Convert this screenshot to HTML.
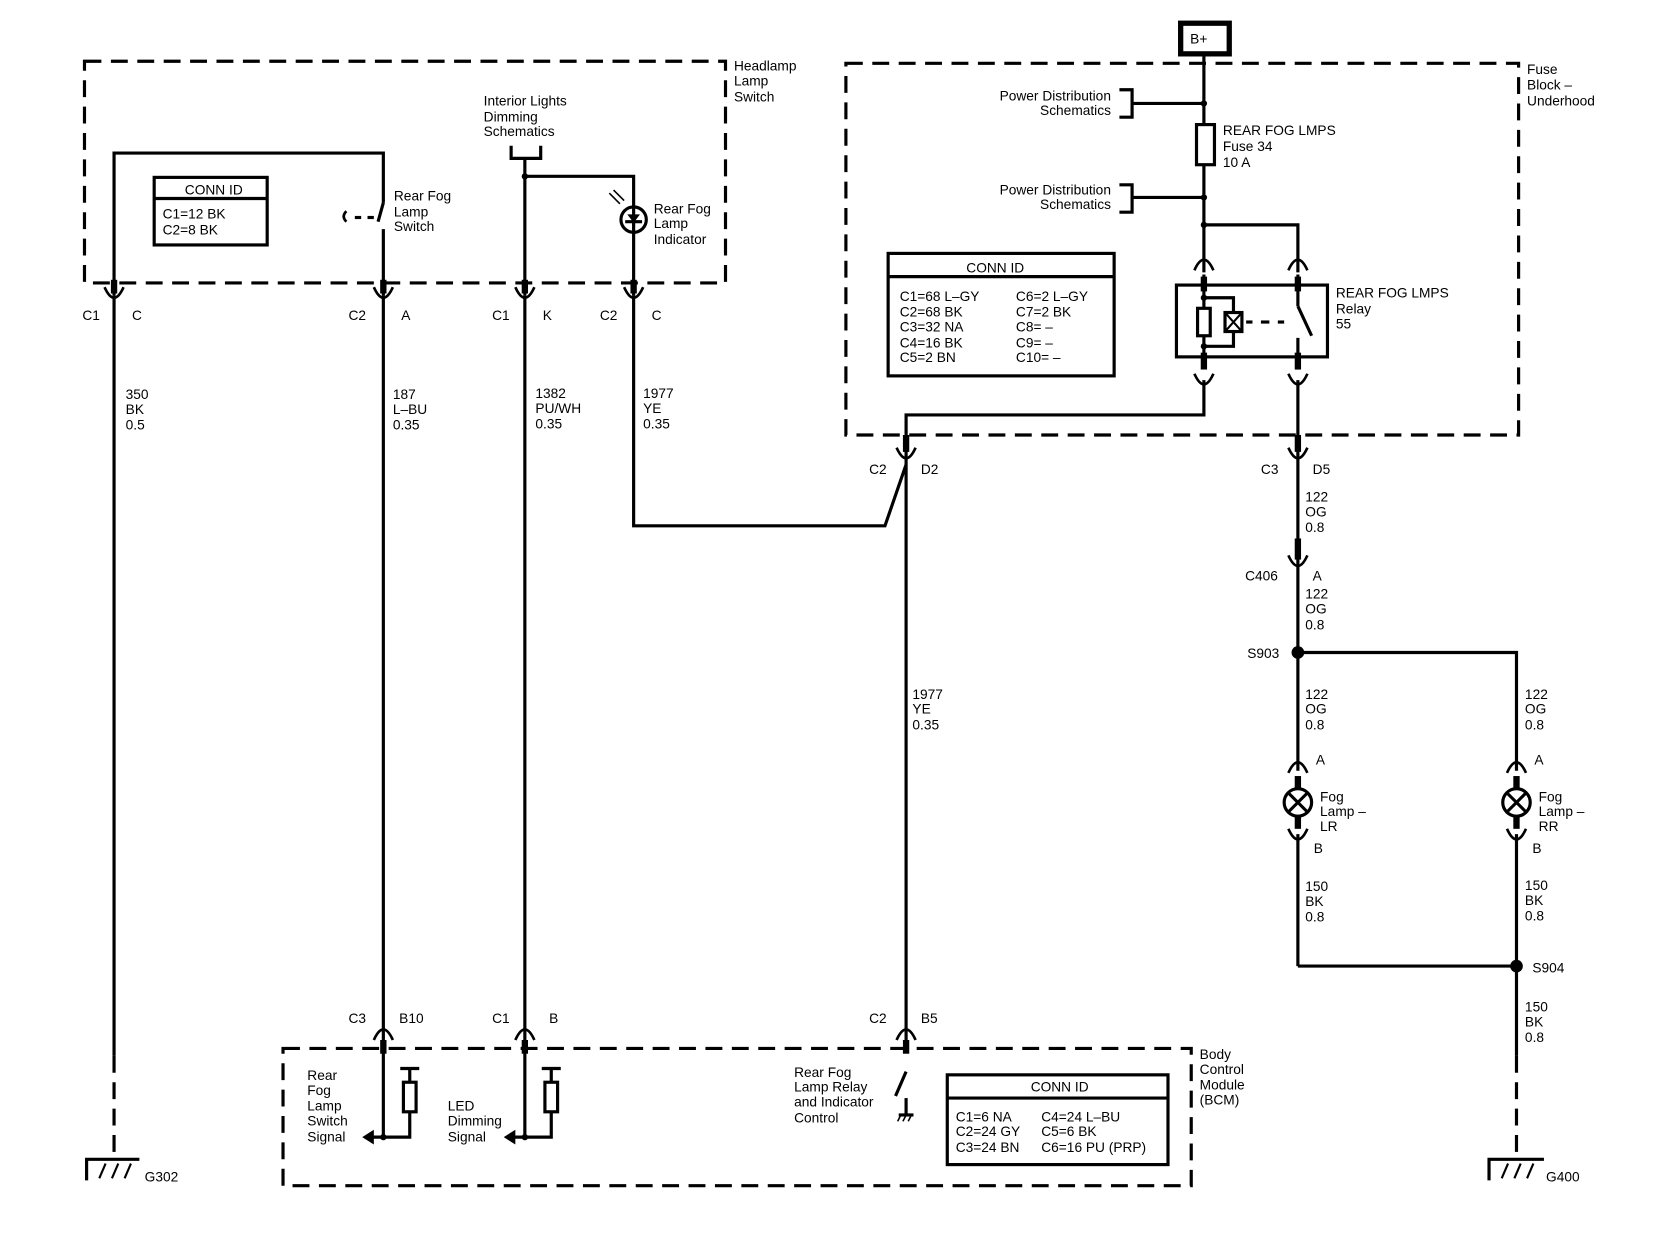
<!DOCTYPE html>
<html><head><meta charset="utf-8"><style>
html,body{margin:0;padding:0;background:#fff;}
svg{display:block;}
text{font-family:"Liberation Sans",Arial,sans-serif;font-size:13px;fill:#000;}
</style></head><body>
<svg width="1658" height="1248" viewBox="0 0 1570 1182" preserveAspectRatio="none" xmlns="http://www.w3.org/2000/svg">
<g fill="none" stroke="#000" stroke-width="3">
<g stroke-dasharray="16,9">
<rect x="80" y="58" width="607" height="210"/>
<rect x="801" y="60" width="637" height="352"/>
<rect x="268" y="993" width="860" height="130"/>
<line x1="108" y1="1000" x2="108" y2="1098"/>
<line x1="1436" y1="1000" x2="1436" y2="1098"/>
</g>
<polyline points="108,280 108,145 363,145 363,192"/>
<line x1="363" y1="217" x2="363" y2="280"/>
<line x1="363" y1="192" x2="358" y2="210"/>
<path d="M328 200 q-5 5 0 10" stroke-width="2.5"/>
<line x1="336" y1="206" x2="342" y2="206"/><line x1="348" y1="206" x2="354" y2="206"/>
<rect x="146" y="168" width="107" height="64"/>
<line x1="146" y1="188" x2="253" y2="188"/>
<polyline points="484,138 484,150 512,150 512,138"/>
<line x1="497" y1="150" x2="497" y2="280"/>
<polyline points="497,167 600,167 600,280"/>
<circle cx="600" cy="208" r="12"/>
<line x1="592" y1="210" x2="608" y2="210"/>
<line x1="108" y1="280" x2="108" y2="1000"/>
<line x1="363" y1="280" x2="363" y2="1077"/>
<line x1="497" y1="280" x2="497" y2="1077"/>
<polyline points="600,280 600,498 838,498 858,440"/>
<line x1="858" y1="430" x2="858" y2="990"/>
<line x1="1140" y1="52" x2="1140" y2="258"/>
<polyline points="1060,85 1072,85 1072,111 1060,111"/>
<line x1="1072" y1="98" x2="1140" y2="98"/>
<polyline points="1060,175 1072,175 1072,201 1060,201"/>
<line x1="1072" y1="187" x2="1140" y2="187"/>
<rect x="1133" y="118" width="17" height="38" fill="#fff"/>
<polyline points="1140,213 1229,213 1229,258"/>
<rect x="1114" y="270" width="143" height="68"/>
<line x1="1140" y1="260" x2="1140" y2="350"/>
<line x1="1229" y1="260" x2="1229" y2="290"/>
<line x1="1229" y1="290" x2="1242" y2="318"/>
<line x1="1229" y1="320" x2="1229" y2="350"/>
<rect x="1134" y="292" width="12" height="26" fill="#fff"/>
<polyline points="1140,282 1168,282 1168,296"/>
<polyline points="1140,328 1168,328 1168,314"/>
<rect x="1160" y="296" width="16" height="18" fill="#fff"/>
<line x1="1160" y1="296" x2="1176" y2="314" stroke-width="2"/><line x1="1176" y1="296" x2="1160" y2="314" stroke-width="2"/>
<line x1="1180" y1="305" x2="1186" y2="305"/><line x1="1194" y1="305" x2="1202" y2="305"/><line x1="1210" y1="305" x2="1216" y2="305"/>
<polyline points="1140,360 1140,393 858,393 858,430"/>
<line x1="1229" y1="360" x2="1229" y2="730"/>
<polyline points="1229,618 1436,618 1436,730"/>
<line x1="1229" y1="790" x2="1229" y2="915"/>
<polyline points="1229,915 1436,915"/>
<line x1="1436" y1="790" x2="1436" y2="1000"/>
<rect x="841" y="240" width="214" height="116"/>
<line x1="841" y1="262" x2="1055" y2="262"/>
<rect x="897" y="1018" width="209" height="85"/>
<line x1="897" y1="1040" x2="1106" y2="1040"/>
<polyline points="352,1077 388,1077 388,1012"/>
<line x1="379" y1="1012" x2="397" y2="1012"/>
<rect x="382" y="1025" width="12" height="28" fill="#fff"/>
<polyline points="486,1077 522,1077 522,1012"/>
<line x1="513" y1="1012" x2="531" y2="1012"/>
<rect x="516" y="1025" width="12" height="28" fill="#fff"/>
<line x1="858" y1="1015" x2="848" y2="1038"/>
<line x1="858" y1="1040" x2="858" y2="1055"/>
<line x1="851" y1="1056" x2="865" y2="1056"/>
<line x1="853" y1="1056" x2="850" y2="1062" stroke-width="1.5"/><line x1="858" y1="1056" x2="855" y2="1062" stroke-width="1.5"/><line x1="863" y1="1056" x2="860" y2="1062" stroke-width="1.5"/>
<circle cx="1229" cy="760" r="13" fill="#fff"/>
<line x1="1220" y1="751" x2="1238" y2="769"/><line x1="1238" y1="751" x2="1220" y2="769"/>
<circle cx="1436" cy="760" r="13" fill="#fff"/>
<line x1="1427" y1="751" x2="1445" y2="769"/><line x1="1445" y1="751" x2="1427" y2="769"/>
<polyline points="82,1118 82,1098 132,1098"/>
<line x1="94" y1="1116" x2="100" y2="1102" stroke-width="2"/><line x1="106" y1="1116" x2="112" y2="1102" stroke-width="2"/><line x1="118" y1="1116" x2="124" y2="1102" stroke-width="2"/>
<polyline points="1410,1118 1410,1098 1462,1098"/>
<line x1="1422" y1="1116" x2="1428" y2="1102" stroke-width="2"/><line x1="1434" y1="1116" x2="1440" y2="1102" stroke-width="2"/><line x1="1446" y1="1116" x2="1452" y2="1102" stroke-width="2"/>
<rect x="1118" y="22" width="46" height="29" stroke-width="5"/>
<g stroke-width="2.5">
<path d="M99 272 Q108 292 117 272"/><path d="M354 272 Q363 292 372 272"/>
<path d="M488 272 Q497 292 506 272"/><path d="M591 272 Q600 292 609 272"/>
<path d="M849 424 Q858 444 867 424"/><path d="M1220 424 Q1229 444 1238 424"/>
<path d="M1220 526 Q1229 546 1238 526"/>
<path d="M1220 785 Q1229 805 1238 785"/><path d="M1427 785 Q1436 805 1445 785"/>
<path d="M1131 354 Q1140 374 1149 354"/><path d="M1220 354 Q1229 374 1238 354"/>
<path d="M1131 256 Q1140 236 1149 256"/><path d="M1220 256 Q1229 236 1238 256"/>
<path d="M1220 732 Q1229 712 1238 732"/><path d="M1427 732 Q1436 712 1445 732"/>
<path d="M354 985 Q363 965 372 985"/><path d="M488 985 Q497 965 506 985"/>
<path d="M849 985 Q858 965 867 985"/>
</g>
</g>
<g stroke="#000" stroke-width="6">
<line x1="108" y1="265" x2="108" y2="278"/><line x1="363" y1="265" x2="363" y2="278"/>
<line x1="497" y1="265" x2="497" y2="278"/><line x1="600" y1="265" x2="600" y2="278"/>
<line x1="858" y1="412" x2="858" y2="428"/><line x1="1229" y1="412" x2="1229" y2="428"/>
<line x1="1229" y1="510" x2="1229" y2="530"/>
<line x1="1140" y1="262" x2="1140" y2="276"/><line x1="1229" y1="262" x2="1229" y2="276"/>
<line x1="1140" y1="334" x2="1140" y2="350"/><line x1="1229" y1="334" x2="1229" y2="350"/>
<line x1="1229" y1="735" x2="1229" y2="748"/><line x1="1229" y1="772" x2="1229" y2="785"/>
<line x1="1436" y1="735" x2="1436" y2="748"/><line x1="1436" y1="772" x2="1436" y2="785"/>
<line x1="363" y1="985" x2="363" y2="998"/><line x1="497" y1="985" x2="497" y2="998"/><line x1="858" y1="985" x2="858" y2="998"/>
</g>
<g fill="#000">
<circle cx="1140" cy="98" r="3"/><circle cx="1140" cy="187" r="3"/><circle cx="1140" cy="213" r="3"/>
<circle cx="497" cy="167" r="3"/><circle cx="1140" cy="282" r="3"/><circle cx="1140" cy="328" r="3"/>
<circle cx="1229" cy="618" r="6"/><circle cx="1436" cy="915" r="6"/>
<circle cx="363" cy="1077" r="3"/><circle cx="497" cy="1077" r="3"/>
<polygon points="343,1077 354,1070 354,1084"/><polygon points="477,1077 488,1070 488,1084"/>
<polygon points="594,203 606,203 600,211"/>
</g>
<g stroke="#000" stroke-width="1.5"><line x1="577" y1="183" x2="587" y2="193"/><line x1="581" y1="180" x2="591" y2="190"/></g>
<text x="1127" y="41" font-size="14">B+</text>
<text x="695" y="67">Headlamp</text><text x="695" y="81">Lamp</text><text x="695" y="96">Switch</text>
<text x="175" y="184">CONN ID</text><text x="154" y="207">C1=12 BK</text><text x="154" y="222">C2=8 BK</text>
<text x="373" y="190">Rear Fog</text><text x="373" y="205">Lamp</text><text x="373" y="219">Switch</text>
<text x="458" y="100">Interior Lights</text><text x="458" y="115">Dimming</text><text x="458" y="129">Schematics</text>
<text x="619" y="202">Rear Fog</text><text x="619" y="216">Lamp</text><text x="619" y="231">Indicator</text>
<text x="78" y="303">C1</text><text x="125" y="303">C</text>
<text x="330" y="303">C2</text><text x="380" y="303">A</text>
<text x="466" y="303">C1</text><text x="514" y="303">K</text>
<text x="568" y="303">C2</text><text x="617" y="303">C</text>
<text x="119" y="378">350</text><text x="119" y="392">BK</text><text x="119" y="407">0.5</text>
<text x="372" y="378">187</text><text x="372" y="392">L–BU</text><text x="372" y="407">0.35</text>
<text x="507" y="377">1382</text><text x="507" y="391">PU/WH</text><text x="507" y="406">0.35</text>
<text x="609" y="377">1977</text><text x="609" y="391">YE</text><text x="609" y="406">0.35</text>
<text x="1052" y="95" text-anchor="end">Power Distribution</text><text x="1052" y="109" text-anchor="end">Schematics</text>
<text x="1052" y="184" text-anchor="end">Power Distribution</text><text x="1052" y="198" text-anchor="end">Schematics</text>
<text x="1158" y="128">REAR FOG LMPS</text><text x="1158" y="143">Fuse 34</text><text x="1158" y="158">10 A</text>
<text x="1446" y="70">Fuse</text><text x="1446" y="85">Block –</text><text x="1446" y="100">Underhood</text>
<text x="1265" y="282">REAR FOG LMPS</text><text x="1265" y="297">Relay</text><text x="1265" y="311">55</text>
<text x="915" y="258">CONN ID</text>
<text x="852" y="285">C1=68 L–GY</text><text x="852" y="300">C2=68 BK</text><text x="852" y="314">C3=32 NA</text><text x="852" y="329">C4=16 BK</text><text x="852" y="343">C5=2 BN</text>
<text x="962" y="285">C6=2 L–GY</text><text x="962" y="300">C7=2 BK</text><text x="962" y="314">C8= –</text><text x="962" y="329">C9= –</text><text x="962" y="343">C10= –</text>
<text x="823" y="449">C2</text><text x="872" y="449">D2</text>
<text x="1194" y="449">C3</text><text x="1243" y="449">D5</text>
<text x="1236" y="475">122</text><text x="1236" y="489">OG</text><text x="1236" y="504">0.8</text>
<text x="1179" y="550">C406</text><text x="1243" y="550">A</text>
<text x="1236" y="567">122</text><text x="1236" y="581">OG</text><text x="1236" y="596">0.8</text>
<text x="1181" y="623">S903</text>
<text x="1236" y="662">122</text><text x="1236" y="676">OG</text><text x="1236" y="691">0.8</text>
<text x="1444" y="662">122</text><text x="1444" y="676">OG</text><text x="1444" y="691">0.8</text>
<text x="1246" y="724">A</text><text x="1453" y="724">A</text>
<text x="1250" y="759">Fog</text><text x="1250" y="773">Lamp –</text><text x="1250" y="787">LR</text>
<text x="1457" y="759">Fog</text><text x="1457" y="773">Lamp –</text><text x="1457" y="787">RR</text>
<text x="1244" y="808">B</text><text x="1451" y="808">B</text>
<text x="1236" y="844">150</text><text x="1236" y="858">BK</text><text x="1236" y="873">0.8</text>
<text x="1444" y="843">150</text><text x="1444" y="857">BK</text><text x="1444" y="872">0.8</text>
<text x="1451" y="921">S904</text>
<text x="1444" y="958">150</text><text x="1444" y="972">BK</text><text x="1444" y="987">0.8</text>
<text x="864" y="662">1977</text><text x="864" y="676">YE</text><text x="864" y="691">0.35</text>
<text x="330" y="969">C3</text><text x="378" y="969">B10</text>
<text x="466" y="969">C1</text><text x="520" y="969">B</text>
<text x="823" y="969">C2</text><text x="872" y="969">B5</text>
<text x="1136" y="1003">Body</text><text x="1136" y="1017">Control</text><text x="1136" y="1032">Module</text><text x="1136" y="1046">(BCM)</text>
<text x="291" y="1023">Rear</text><text x="291" y="1037">Fog</text><text x="291" y="1052">Lamp</text><text x="291" y="1066">Switch</text><text x="291" y="1081">Signal</text>
<text x="424" y="1052">LED</text><text x="424" y="1066">Dimming</text><text x="424" y="1081">Signal</text>
<text x="752" y="1020">Rear Fog</text><text x="752" y="1034">Lamp Relay</text><text x="752" y="1048">and Indicator</text><text x="752" y="1063">Control</text>
<text x="976" y="1034">CONN ID</text>
<text x="905" y="1062">C1=6 NA</text><text x="905" y="1076">C2=24 GY</text><text x="905" y="1091">C3=24 BN</text>
<text x="986" y="1062">C4=24 L–BU</text><text x="986" y="1076">C5=6 BK</text><text x="986" y="1091">C6=16 PU (PRP)</text>
<text x="137" y="1119">G302</text><text x="1464" y="1119">G400</text>
</svg>
</body></html>
